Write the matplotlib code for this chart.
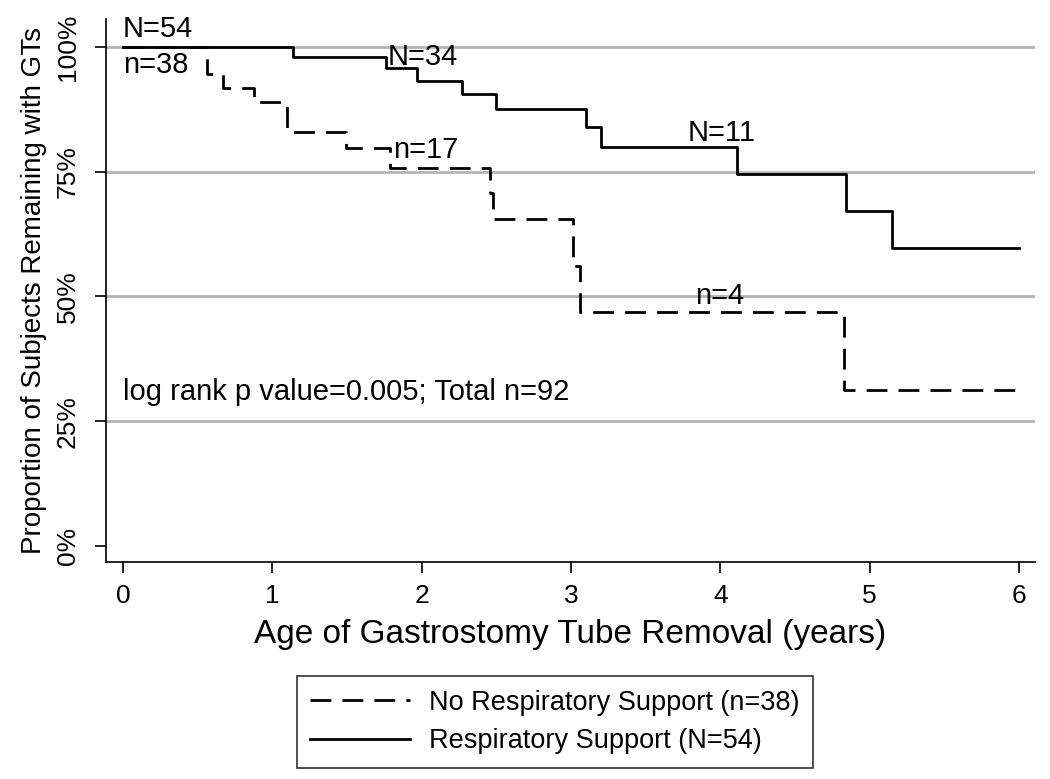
import matplotlib
matplotlib.use('Agg')
import matplotlib.pyplot as plt

plt.rcParams['font.family'] = ['Liberation Sans', 'DejaVu Sans']

# Kaplan-Meier steps (years, % remaining)
resp_t = [0, 1.14, 1.76, 1.97, 2.27, 2.50, 3.10, 3.20, 4.11, 4.84, 5.15, 6.0]
resp_s = [100, 97.9, 95.7, 93.2, 90.6, 87.5, 83.9, 79.9, 74.5, 67.1, 59.8, 59.8]

noresp_t = [0, 0.565, 0.67, 0.88, 1.10, 1.49, 1.79, 2.46, 2.48, 3.01, 3.06, 4.83, 6.0]
noresp_s = [100, 94.5, 91.8, 88.9, 82.9, 79.7, 75.7, 70.7, 65.5, 56.1, 46.9, 31.3, 31.3]

x_ticks = [0, 1, 2, 3, 4, 5, 6]
y_ticks = [0, 25, 50, 75, 100]
y_labels = ['0%', '25%', '50%', '75%', '100%']
grid_levels = [25, 50, 75, 100]

fig = plt.figure(figsize=(10.5, 7.79), dpi=100)
ax = fig.add_axes([0.101, 0.2786, 0.8847, 0.6964])

# Grid lines
for g in grid_levels:
    ax.axhline(g, color='#b4b4b4', lw=2, zorder=1)

ax.step(noresp_t, noresp_s, where='post', color='black', lw=2,
        dashes=(7.5, 4), label='No Respiratory Support (n=38)', zorder=3)
ax.step(resp_t, resp_s, where='post', color='black', lw=2,
        label='Respiratory Support (N=54)', zorder=3)

# at-risk labels
fs = 21
ax.text(0, 103.6, 'N=54', fontsize=fs, va='center', ha='left')
ax.text(0, 96.4, 'n=38', fontsize=fs, va='center', ha='left')
ax.text(1.77, 98.0, 'N=34', fontsize=fs, va='center', ha='left')
ax.text(1.81, 79.4, 'n=17', fontsize=fs, va='center', ha='left')
ax.text(3.78, 82.8, 'N=11', fontsize=fs, va='center', ha='left')
ax.text(3.83, 50.1, 'n=4', fontsize=fs, va='center', ha='left')
ax.text(0, 30.9, 'log rank p value=0.005; Total n=92', fontsize=fs,
        va='center', ha='left')

ax.set_xlim(-0.114, 6.107)
ax.set_ylim(-3.2, 105.5)
ax.set_xticks(x_ticks)
ax.set_yticks(y_ticks)
ax.set_yticklabels(y_labels, rotation=90, va='center')
ax.tick_params(axis='both', direction='out', length=8, width=1.2,
               labelsize=19, color='black', pad=8)
ax.tick_params(axis='y', pad=11)
for s in ['top', 'right']:
    ax.spines[s].set_visible(False)
for s in ['left', 'bottom']:
    ax.spines[s].set_linewidth(1.2)

ax.set_xlabel('Age of Gastrostomy Tube Removal (years)', fontsize=24, labelpad=8)
ax.set_ylabel('Proportion of Subjects Remaining with GTs', fontsize=20, labelpad=6)

leg = fig.legend(loc='center', bbox_to_anchor=(0.5286, 0.0732), fontsize=19.5,
                 frameon=True, fancybox=False, edgecolor='black',
                 handlelength=3.7, handletextpad=0.7, borderpad=0.5,
                 labelspacing=0.45)
leg.get_frame().set_linewidth(1.2)

fig.savefig('out.png', dpi=100)
